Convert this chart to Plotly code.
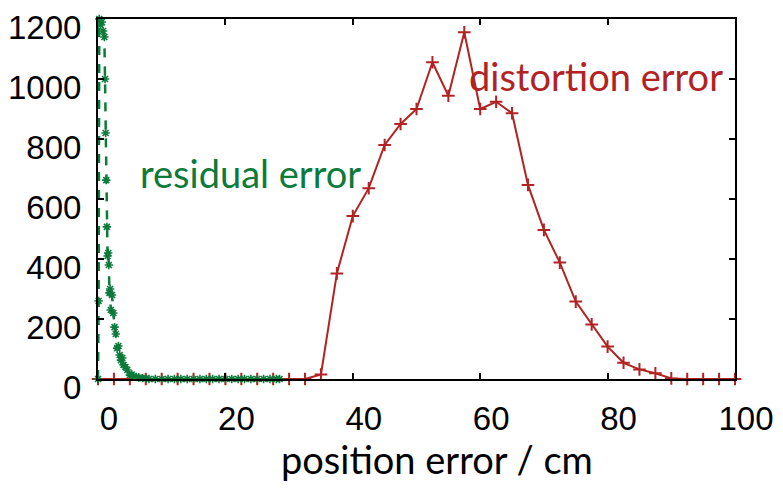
import plotly.graph_objects as go

# ---- data ----
distortion_x = [0, 2.5, 5, 7.5, 10, 12.5, 15, 17.5, 20, 22.5, 25, 27.5, 30, 32.5,
                35, 37.5, 40, 42.5, 45, 47.5, 50, 52.5, 55, 57.5, 60, 62.5, 65,
                67.5, 70, 72.5, 75, 77.5, 80, 82.5, 85, 87.5, 90, 92.5, 95, 97.5, 100]
distortion_y = [0, 0, 0, 0, 0, 0, 0, 0, 0, 0, 0, 0, 0, 0,
                15, 352, 543, 636, 780, 850, 900, 1056, 944, 1156, 900, 924, 886,
                647, 497, 388, 258, 182, 108, 54, 32, 19, 2, 0, 0, 0, 0]

residual_x = [0.0, 0.1, 0.2, 0.4, 0.6, 0.8, 1.0, 1.1, 1.2, 1.3, 1.4, 1.5, 1.6, 1.7,
              1.8, 1.9, 2.0, 2.2, 2.4, 2.6, 2.8, 3.0, 3.2, 3.4, 3.6, 3.8, 4.0, 4.3,
              4.6, 5.0, 5.3, 5.6, 6.0, 6.4, 7.0, 7.5, 8.0, 9.0, 10.0, 11.0, 12.0,
              13.0, 14.0, 15.0, 16.0, 17.0, 18.0, 19.0, 20.0, 21.0, 22.0, 23.0,
              24.0, 25.0, 26.0, 27.0, 28.0, 28.5]
residual_y = [0, 260, 1200, 1180, 1190, 1160, 1140, 1000, 820, 663, 507, 410, 420, 380,
              287, 300, 230, 280, 220, 173, 150, 103, 110, 80, 63, 70, 47, 40,
              30, 13, 15, 8, 7, 5, 3, 2, 0, 0, 0, 0, 0,
              0, 0, 0, 0, 0, 0, 0, 0, 0, 0, 0,
              0, 0, 0, 0, 0, 0]

x_ticks = [0, 20, 40, 60, 80, 100]
y_ticks = [0, 200, 400, 600, 800, 1000, 1200]

RED = "#b22222"
GREEN = "#0b7a3b"
TEXT_FONT = "Lato, Open Sans, sans-serif"

fig = go.Figure()
fig.add_trace(go.Scatter(
    x=distortion_x, y=distortion_y, mode="lines+markers",
    line=dict(color=RED, width=2),
    marker=dict(symbol="cross-thin-open", size=9, line=dict(color=RED, width=2)),
    cliponaxis=False, showlegend=False))
fig.add_trace(go.Scatter(
    x=residual_x, y=residual_y, mode="lines+markers",
    line=dict(color=GREEN, width=2.5, dash="dash"),
    marker=dict(symbol="asterisk-open", size=7, line=dict(color=GREEN, width=1.6)),
    cliponaxis=False, showlegend=False))

fig.add_annotation(x=24, y=687, text="residual error", showarrow=False,
                   font=dict(family=TEXT_FONT, size=38, color=GREEN))
fig.add_annotation(x=78.2, y=1010, text="distortion error", showarrow=False,
                   font=dict(family=TEXT_FONT, size=38, color=RED))
# x-axis title, placed slightly right of centre as in the reference
fig.add_annotation(xref="paper", yref="paper", x=0.532, y=-0.153, yanchor="top",
                   text="position error / cm", showarrow=False,
                   font=dict(family=TEXT_FONT, size=38, color="black"))

tickfont = dict(family="Liberation Sans, Arial, sans-serif", size=33, color="black")

fig.update_xaxes(range=[0, 100], tickvals=x_ticks, ticktext=[str(v) for v in x_ticks],
                 ticks="inside", ticklen=6, tickwidth=1.5, tickcolor="black",
                 showline=True, linecolor="black", linewidth=2, mirror="ticks",
                 showgrid=False, zeroline=False, tickfont=tickfont, automargin=False,
                 ticklabelshift=11, ticklabelstandoff=9)
fig.update_yaxes(range=[0, 1200], tickvals=y_ticks, ticktext=[str(v) for v in y_ticks],
                 ticks="inside", ticklen=6, tickwidth=1.5, tickcolor="black",
                 showline=True, linecolor="black", linewidth=2, mirror="ticks",
                 showgrid=False, zeroline=False, tickfont=tickfont, automargin=False,
                 ticklabelshift=8, ticklabelstandoff=8)

fig.update_layout(width=783, height=489, margin=dict(l=98, r=48, t=19, b=110),
                  plot_bgcolor="white", paper_bgcolor="white")

fig.write_html("out.html")
